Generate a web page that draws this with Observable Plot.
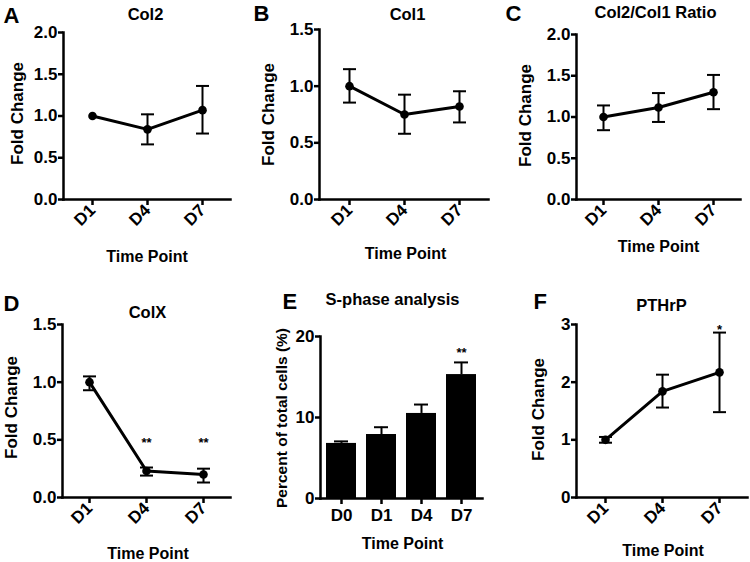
<!DOCTYPE html>
<html><head><meta charset="utf-8">
<script src="https://cdn.jsdelivr.net/npm/d3@7"></script>
<script src="https://cdn.jsdelivr.net/npm/@observablehq/plot@0.6"></script>
<style>
body{margin:0;background:#fff;}
#wrap{position:relative;width:750px;height:562px;background:#fff;overflow:hidden;}
#wrap svg{position:absolute;overflow:visible;}
</style></head><body><div id="wrap"></div>
<script>
// ---- data ----
const timePoints = ["D1", "D4", "D7"];
const col2Mean = [1.00, 0.84, 1.07];
const col2Low  = [null, 0.66, 0.79];
const col2High = [null, 1.02, 1.36];

const col1Mean = [1.00, 0.75, 0.82];
const col1Low  = [0.855, 0.58, 0.68];
const col1High = [1.15, 0.925, 0.955];

const ratioMean = [1.00, 1.115, 1.30];
const ratioLow  = [0.84, 0.94, 1.095];
const ratioHigh = [1.14, 1.29, 1.51];

const colXMean = [1.00, 0.23, 0.20];
const colXLow  = [0.93, 0.19, 0.13];
const colXHigh = [1.05, 0.26, 0.25];
const colXStarDays = ["D4", "D7"];
const colXStarLevel = [0.47, 0.47];
const colXStarText = ["**", "**"];

const sphaseDays = ["D0", "D1", "D4", "D7"];
const sphaseMean = [6.8, 7.9, 10.5, 15.3];
const sphaseHigh = [7.05, 8.8, 11.6, 16.8];
const sphaseStarDays = ["D7"];
const sphaseStarLevel = [18.0];
const sphaseStarText = ["**"];

const pthMean = [1.00, 1.84, 2.17];
const pthLow  = [0.95, 1.56, 1.48];
const pthHigh = [1.05, 2.13, 2.86];
const pthStarDays = ["D7"];
const pthStarLevel = [2.9];
const pthStarText = ["*"];

const panelLetters = ["A", "B", "C", "D", "E", "F"];
const panelTitles = ["Col2", "Col1", "Col2/Col1 Ratio", "ColX", "S-phase analysis", "PTHrP"];
const yLabels = ["Fold Change", "Fold Change", "Fold Change", "Fold Change", "Percent of total cells (%)", "Fold Change"];
const xLabel = "Time Point";
const ticksA = [0, 0.5, 1.0, 1.5, 2.0];
const ticksB = [0, 0.5, 1.0, 1.5];
const ticksE = [0, 10, 20];
const ticksF = [0, 1, 2, 3];

// ---- layout (positions of each panel) ----
const layout = [
  {left:0,   top:0,   w:250, h:280, m:[32,20,81,63], pad:0.5,  yMax:2.0, ticks:ticksA, fmt:".1f",
   letter:[3,15], title:[145,14], yLab:[17,113], xLab:[146.5,256]},
  {left:250, top:0,   w:250, h:280, m:[29,12,81,69], pad:0.52, yMax:1.5, ticks:ticksB, fmt:".1f",
   letter:[3,13], title:[157,14], yLab:[18,114], xLab:[155,253]},
  {left:500, top:0,   w:250, h:280, m:[34,10,81,76], pad:0.47, yMax:2.0, ticks:ticksA, fmt:".1f",
   letter:[5,13], title:[155,12], yLab:[25,115], xLab:[158,246]},
  {left:0,   top:280, w:250, h:282, m:[44,20,65,62], pad:0.47, yMax:1.5, ticks:ticksB, fmt:".1f",
   letter:[3,23], title:[147,32], yLab:[11,127], xLab:[147.5,273]},
  {left:250, top:280, w:250, h:282, m:[56,18,64,70], pad:0,    yMax:20,  ticks:ticksE, fmt:"d",
   letter:[32,21], title:[142,19], yLab:[31.5,137.5], xLab:[152,263]},
  {left:500, top:280, w:250, h:282, m:[44,3,65,76],  pad:0.49, yMax:3,   ticks:ticksF, fmt:"d",
   letter:[33,21], title:[161,25], yLab:[38,129], xLab:[162.5,270]}
];

const FONT = "'Liberation Sans', Arial, Helvetica, sans-serif";
const wrap = document.getElementById("wrap");

// horizontal-line symbol used for error-bar caps (half-width = r)
const capSymbol = {
  draw(context, size) {
    const w = Math.sqrt(size / Math.PI);
    context.moveTo(-w, 0);
    context.lineTo(w, 0);
  }
};

function labelMarks(i, L) {
  const [mt, mr, mb, ml] = L.m;
  const at = (p) => ({frameAnchor: "top-left", dx: p[0] - ml, dy: p[1] - mt, lineAnchor: "middle", fontWeight: "bold", fill: "black"});
  return [
    Plot.text([panelLetters[i]], {...at(L.letter), textAnchor: "start", fontSize: 22}),
    Plot.text([panelTitles[i]], {...at(L.title), textAnchor: "middle", fontSize: 16.5}),
    Plot.text([yLabels[i]], {...at(L.yLab), textAnchor: "middle", rotate: -90, fontSize: i === 4 ? 15.5 : 17}),
    Plot.text([xLabel], {...at(L.xLab), textAnchor: "middle", fontSize: 16})
  ];
}

function axesMarks(L, rotate) {
  return [
    Plot.frame({anchor: "left", stroke: "black", strokeWidth: 2.5}),
    Plot.frame({anchor: "bottom", stroke: "black", strokeWidth: 2.5}),
    Plot.axisY({ticks: L.ticks, tickFormat: d3.format(L.fmt), tickSize: 5, tickPadding: 1, strokeWidth: 2.5, label: null, fill: "black", fontSize: 17}),
    Plot.axisX({tickRotate: rotate ? -45 : 0, tickSize: 6, tickPadding: rotate ? 2 : 4, strokeWidth: 2.5, label: null, fill: "black", fontSize: 17})
  ];
}

function place(svg, L) {
  svg.style.left = L.left + "px";
  svg.style.top = L.top + "px";
  wrap.appendChild(svg);
}

function linePanel(i, mean, low, high, starDays, starLevel, starText) {
  const L = layout[i];
  const rows = timePoints.map((d, k) => ({d, m: mean[k], lo: low[k], hi: high[k]}));
  const err = rows.filter(r => r.lo != null);
  const stars = (starDays || []).map((d, k) => ({d, y: starLevel[k], t: starText[k]}));
  const svg = Plot.plot({
    width: L.w, height: L.h,
    marginTop: L.m[0], marginRight: L.m[1], marginBottom: L.m[2], marginLeft: L.m[3],
    style: {fontFamily: FONT, fontSize: "17px", fontWeight: "bold", color: "black", background: "transparent", overflow: "visible"},
    x: {type: "point", domain: timePoints, padding: L.pad},
    y: {domain: [0, L.yMax]},
    marks: [
      ...axesMarks(L, true),
      Plot.ruleX(err, {x: "d", y1: "lo", y2: "hi", stroke: "black", strokeWidth: 2}),
      Plot.dot(err, {x: "d", y: "lo", symbol: capSymbol, r: 6.5, fill: "none", stroke: "black", strokeWidth: 2}),
      Plot.dot(err, {x: "d", y: "hi", symbol: capSymbol, r: 6.5, fill: "none", stroke: "black", strokeWidth: 2}),
      Plot.line(rows, {x: "d", y: "m", stroke: "black", strokeWidth: 3}),
      Plot.dot(rows, {x: "d", y: "m", r: 4.3, fill: "black", stroke: "none"}),
      Plot.text(stars, {x: "d", y: "y", text: "t", fontSize: 13, fontWeight: "bold", fill: "black"}),
      ...labelMarks(i, L)
    ]
  });
  place(svg, L);
}

function barPanel(i) {
  const L = layout[i];
  const rows = sphaseDays.map((d, k) => ({d, m: sphaseMean[k], hi: sphaseHigh[k]}));
  const stars = sphaseStarDays.map((d, k) => ({d, y: sphaseStarLevel[k], t: sphaseStarText[k]}));
  const svg = Plot.plot({
    width: L.w, height: L.h,
    marginTop: L.m[0], marginRight: L.m[1], marginBottom: L.m[2], marginLeft: L.m[3],
    style: {fontFamily: FONT, fontSize: "17px", fontWeight: "bold", color: "black", background: "transparent", overflow: "visible"},
    x: {type: "band", domain: sphaseDays, paddingInner: 0.26, paddingOuter: 0.13},
    y: {domain: [0, L.yMax]},
    marks: [
      Plot.ruleX(rows, {x: "d", y1: "m", y2: "hi", stroke: "black", strokeWidth: 2}),
      Plot.tickY(rows, {x: "d", y: "hi", insetLeft: 8, insetRight: 8, stroke: "black", strokeWidth: 2}),
      Plot.barY(rows, {x: "d", y: "m", fill: "black"}),
      ...axesMarks(L, false),
      Plot.text(stars, {x: "d", y: "y", text: "t", fontSize: 13, fontWeight: "bold", fill: "black"}),
      ...labelMarks(i, L)
    ]
  });
  place(svg, L);
}

linePanel(0, col2Mean, col2Low, col2High);
linePanel(1, col1Mean, col1Low, col1High);
linePanel(2, ratioMean, ratioLow, ratioHigh);
linePanel(3, colXMean, colXLow, colXHigh, colXStarDays, colXStarLevel, colXStarText);
barPanel(4);
linePanel(5, pthMean, pthLow, pthHigh, pthStarDays, pthStarLevel, pthStarText);
</script>
</body></html>
